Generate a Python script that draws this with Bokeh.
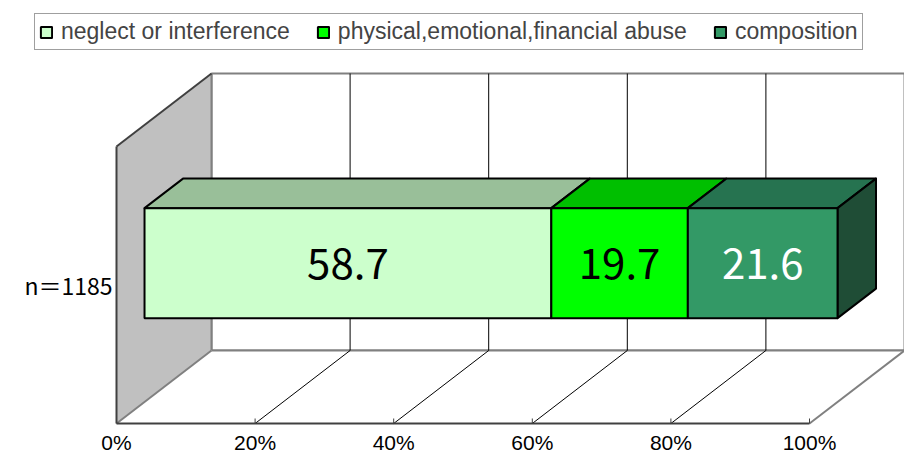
from bokeh.plotting import figure
from bokeh.models import Range1d, Legend, LegendItem
from bokeh.embed import file_html
from bokeh.resources import INLINE
from bokeh.core.properties import value

# ---------------- data ----------------
categories = ["n＝1185"]
series_names = ["neglect or interference", "physical,emotional,financial abuse", "composition"]
neglect_values = [58.7]
abuse_values = [19.7]
composition_values = [21.6]
tick_values = [0, 20, 40, 60, 80, 100]
tick_labels = ["0%", "20%", "40%", "60%", "80%", "100%"]
grid_values = [20, 40, 60, 80]

# ---------------- styles ----------------
front_colors = ["#CCFFCC", "#00FF00", "#339966"]
top_colors = ["#99BF99", "#00BF00", "#267350"]
side_color = "#1F4D36"
label_colors = ["black", "black", "white"]
DARK = "#404040"
GRAY = "#808080"
NUM_FONT = value("Noto Sans CJK JP")
TICK_FONT = value("Liberation Sans")
TXT_FONT = "Liberation Sans"

# ---------------- layout geometry ----------------
W, H = 904, 454
PX = 6.93             # px per percent on the front plane
X0 = 116              # canvas x of 0% (front)
Y0 = 423              # canvas y of floor front edge (from top)
DX = 95.0 / PX        # depth offset (percent units)
DY = 73.0             # depth offset (px units)
WALL = 277.0          # wall height on the front plane
BAR_C = 138.8         # category centre (front plane)
BAR_HH = 55.0         # half bar height
D0, D1 = 0.295, 0.70  # bar depth range

p = figure(width=W, height=H,
           x_range=Range1d(-X0 / PX, (W - X0) / PX),
           y_range=Range1d(Y0 - H, Y0),
           output_backend="svg", toolbar_location=None,
           x_axis_location=None, y_axis_location=None,
           min_border=0, min_border_left=0, min_border_right=0,
           min_border_top=0, min_border_bottom=0,
           outline_line_color=None,
           background_fill_color="white", border_fill_color="white")
p.grid.visible = False

# back wall
p.quad(left=[DX], right=[100 + DX], bottom=[DY], top=[WALL + DY],
       fill_color="white", line_color=GRAY, line_width=2)
# left wall
p.patch(x=[0, 0, DX, DX], y=[0, WALL, WALL + DY, DY],
        fill_color="#C0C0C0", line_color=None)
p.segment(x0=[DX], y0=[DY], x1=[DX], y1=[WALL + DY], line_color=GRAY, line_width=2)
# floor
p.patch(x=[0, 100, 100 + DX, DX], y=[0, 0, DY, DY], fill_color="white", line_color=None)
p.segment(x0=[DX], y0=[DY], x1=[100 + DX], y1=[DY], line_color=GRAY, line_width=2)

# gridlines on back wall and floor
p.segment(x0=[v + DX for v in grid_values], y0=[DY] * len(grid_values),
          x1=[v + DX for v in grid_values], y1=[WALL + DY] * len(grid_values),
          line_color="black", line_width=1)
p.segment(x0=grid_values, y0=[0] * len(grid_values),
          x1=[v + DX for v in grid_values], y1=[DY] * len(grid_values),
          line_color="black", line_width=1)

# edges
p.segment(x0=[0, 100], y0=[0, 0], x1=[DX, 100 + DX], y1=[DY, DY], line_color=GRAY, line_width=2)
p.segment(x0=[0, 0, 0], y0=[0, WALL, 0], x1=[0, DX, 100], y1=[WALL, WALL + DY, 0],
          line_color=DARK, line_width=2)
# small ticks on front edge
tv = tick_values[1:]
p.segment(x0=tv, y0=[0] * len(tv), x1=tv, y1=[5] * len(tv), line_color=DARK, line_width=1)

# bars
series_values = [neglect_values, abuse_values, composition_values]
n = len(categories)
cum = [0.0] * n
centers = [BAR_C] * n
legend_items = []
for k, vals in enumerate(series_values):
    a = cum[:]
    b = [cum[i] + vals[i] for i in range(n)]
    tops = [centers[i] + BAR_HH for i in range(n)]
    bots = [centers[i] - BAR_HH for i in range(n)]
    # top face
    p.patches(xs=[[a[i] + D0 * DX, b[i] + D0 * DX, b[i] + D1 * DX, a[i] + D1 * DX] for i in range(n)],
              ys=[[tops[i] + D0 * DY, tops[i] + D0 * DY, tops[i] + D1 * DY, tops[i] + D1 * DY] for i in range(n)],
              fill_color=top_colors[k], line_color="black", line_width=2, line_join="round")
    if k == len(series_values) - 1:
        p.patches(xs=[[b[i] + D0 * DX, b[i] + D1 * DX, b[i] + D1 * DX, b[i] + D0 * DX] for i in range(n)],
                  ys=[[bots[i] + D0 * DY, bots[i] + D1 * DY, tops[i] + D1 * DY, tops[i] + D0 * DY] for i in range(n)],
                  fill_color=side_color, line_color="black", line_width=2, line_join="round")
    r = p.quad(left=[x + D0 * DX for x in a], right=[x + D0 * DX for x in b],
               bottom=[y + D0 * DY for y in bots], top=[y + D0 * DY for y in tops],
               fill_color=front_colors[k], line_color="black", line_width=2)
    legend_items.append(LegendItem(label=series_names[k], renderers=[r]))
    p.text(x=[(a[i] + b[i]) / 2 + D0 * DX for i in range(n)],
           y=[centers[i] + D0 * DY for i in range(n)],
           text=[f"{v:.1f}" for v in vals],
           text_font=NUM_FONT, text_font_size="42px",
           text_align="center", text_baseline="middle", text_color=label_colors[k])
    cum = b

# tick labels (front floor edge)
p.text(x=tick_values, y=[-19.0] * len(tick_values), text=tick_labels,
       text_font=TICK_FONT, text_font_size="21px",
       text_align="center", text_baseline="middle", text_color="black")
# category label
p.text(x=[-4 / PX] * n, y=centers, text=categories,
       text_font=NUM_FONT, text_font_size="23px",
       text_align="right", text_baseline="middle", text_color="black")

legend = Legend(items=legend_items, orientation="horizontal", location=(34, 404),
                glyph_width=14, glyph_height=14, label_standoff=8, spacing=26,
                padding=4, margin=0, label_height=20,
                label_text_font=TXT_FONT, label_text_font_size="23px",
                border_line_color=DARK, border_line_width=1,
                background_fill_color="white", background_fill_alpha=1)
p.add_layout(legend)

open("out.html", "w").write(file_html(p, INLINE))
